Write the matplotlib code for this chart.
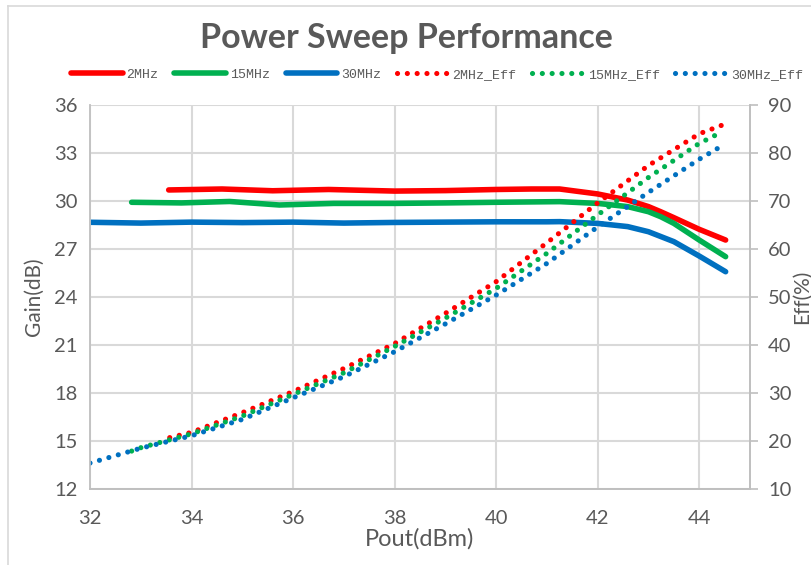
import matplotlib
matplotlib.use("Agg")
import matplotlib.pyplot as plt
from matplotlib.lines import Line2D
import numpy as np

plt.rcParams['font.family'] = ['Lato', 'DejaVu Sans']

# gain curves (left axis)
x_g2 = [33.55, 34.6, 35.6, 36.7, 38, 39, 40, 40.7, 41.25, 42, 42.59, 43, 43.24, 43.5, 44, 44.52]
g2 = [30.69, 30.75, 30.64, 30.72, 30.62, 30.65, 30.72, 30.75, 30.75, 30.44, 30.06, 29.65, 29.33, 28.96, 28.23, 27.56]
x_g15 = [32.82, 33.8, 34.75, 35.73, 36.8, 38, 39, 40, 41.25, 42, 42.59, 43, 43.24, 43.5, 44, 44.52]
g15 = [29.92, 29.88, 29.97, 29.75, 29.85, 29.85, 29.88, 29.92, 29.96, 29.85, 29.65, 29.33, 29.02, 28.6, 27.56, 26.52]
x_g30 = [32, 33, 34, 35, 36, 37, 38, 39, 40, 41, 41.25, 42, 42.59, 43, 43.5, 44, 44.52]
g30 = [28.67, 28.62, 28.68, 28.65, 28.68, 28.62, 28.66, 28.68, 28.7, 28.7, 28.71, 28.6, 28.4, 28.08, 27.46, 26.56, 25.58]

# efficiency curves (right axis)
x_e2 = [33.57, 34, 35, 36, 37, 38, 39, 40, 41, 42, 43, 44, 44.45]
e2 = [20.7, 21.8, 25.9, 30.3, 35.1, 40.3, 46.6, 53.2, 61.3, 69.6, 77.4, 84.0, 85.8]
x_e15 = [32.82, 33, 34, 35, 36, 37, 38, 39, 40, 41, 42, 43, 44, 44.45]
e15 = [17.9, 18.6, 21.5, 25.2, 29.7, 34.2, 39.7, 45.6, 51.8, 59.1, 67.1, 74.9, 82.0, 84.4]
x_e30 = [32, 33, 34, 35, 36, 37, 38, 39, 40, 41, 42, 43, 44, 44.45]
e30 = [15.4, 18.5, 21.1, 24.5, 29.0, 33.4, 38.6, 44.4, 50.4, 57.0, 64.6, 71.8, 78.7, 81.5]

x_ticks = [32, 34, 36, 38, 40, 42, 44]
gain_ticks = [12, 15, 18, 21, 24, 27, 30, 33, 36]
eff_ticks = [10, 20, 30, 40, 50, 60, 70, 80, 90]

red, green, blue = '#FF0000', '#00B050', '#0070C0'
txt = '#595959'
grid = '#D9D9D9'

fig = plt.figure(figsize=(8.12, 5.65), dpi=100)
ax = fig.add_axes([90/812, 1-489/565, 660/812, 384/565])
ax2 = ax.twinx()

lw = 4
h1, = ax.plot(x_g2, g2, color=red, lw=lw, solid_capstyle='round', solid_joinstyle='round')
h2, = ax.plot(x_g15, g15, color=green, lw=lw, solid_capstyle='round', solid_joinstyle='round')
h3, = ax.plot(x_g30, g30, color=blue, lw=lw, solid_capstyle='round', solid_joinstyle='round')

dot = (0, (0.01, 1.9))
h4, = ax2.plot(x_e2, e2, color=red, lw=3.7, ls=dot, dash_capstyle='round')
h5, = ax2.plot(x_e15, e15, color=green, lw=3.7, ls=dot, dash_capstyle='round')
h6, = ax2.plot(x_e30, e30, color=blue, lw=3.7, ls=dot, dash_capstyle='round')

ax.set_xlim(32, 45)
ax.set_ylim(12, 36)
ax2.set_ylim(10, 90)
ax.set_xticks(x_ticks)
ax.set_yticks(gain_ticks)
ax2.set_yticks(eff_ticks)
ax.grid(True, color=grid, lw=1.5)
ax.set_axisbelow(True)

for a in (ax, ax2):
    a.spines['top'].set_visible(False)
    for s in ('left', 'right', 'bottom'):
        a.spines[s].set_color('#BFBFBF')
        a.spines[s].set_linewidth(1.2)
ax.spines['left'].set_color(grid)
ax.tick_params(axis='both', length=0, labelsize=14.5, labelcolor=txt)
ax.tick_params(axis='y', pad=9)
ax.tick_params(axis='x', pad=15)
ax2.tick_params(axis='y', length=6, width=1.2, color='#BFBFBF', labelsize=14.5, labelcolor=txt, pad=7)

ax.set_xlabel('Pout(dBm)', fontsize=17, color=txt, labelpad=1)
ax.set_ylabel('Gain(dB)', fontsize=15, color=txt)
ax.yaxis.set_label_coords(-0.07, 0.5)
ax2.set_ylabel('Eff(%)', fontsize=15, color=txt)
ax2.yaxis.set_label_coords(1.063, 0.5)

fig.text(0.5, 1-38/565, 'Power Sweep Performance', ha='center', va='center',
         fontsize=24.5, fontweight='bold', color=txt)

fig.legend([h1, h2, h3, h4, h5, h6],
           ['2MHz', '15MHz', '30MHz', '2MHz_Eff', '15MHz_Eff', '30MHz_Eff'],
           loc='center', bbox_to_anchor=(437/812, 1-75/565), ncol=6, frameon=False,
           handlelength=3.9, handletextpad=0.3, columnspacing=1.2,
           prop={'family': 'Liberation Mono', 'size': 9.5}, labelcolor=txt)

# chart border
fig.add_artist(Line2D([8/812, 8/812], [0, 1-6/565], color='#D9D9D9', lw=1.2))
fig.add_artist(Line2D([8/812, 1], [1-6/565, 1-6/565], color='#D9D9D9', lw=1.2))

fig.savefig('out.png', dpi=100)
